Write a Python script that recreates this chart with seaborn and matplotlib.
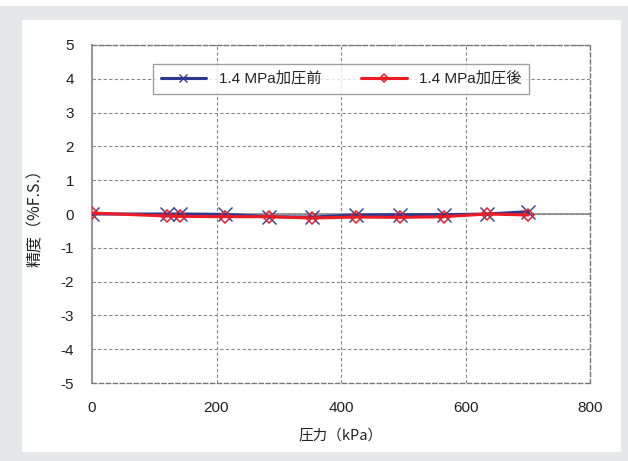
import matplotlib
matplotlib.use("Agg")
import matplotlib.pyplot as plt
import seaborn as sns
import pandas as pd
from matplotlib.patches import Rectangle

sns.set_theme(style="white")
plt.rcParams['font.family'] = ['Liberation Sans', 'Noto Sans CJK JP', 'DejaVu Sans']
plt.rcParams['axes.unicode_minus'] = False

pressure = [0, 120, 142, 213, 284, 354, 424, 494, 565, 635, 701]
before = [0.00, 0.00, 0.00, -0.01, -0.08, -0.09, -0.03, -0.02, -0.02, 0.00, 0.07]
after = [0.03, -0.06, -0.07, -0.08, -0.08, -0.12, -0.09, -0.10, -0.08, 0.00, -0.03]
label_before = "1.4 MPa加圧前"
label_after = "1.4 MPa加圧後"
xticks = [0, 200, 400, 600, 800]
yticks = [-5, -4, -3, -2, -1, 0, 1, 2, 3, 4, 5]

df = pd.DataFrame({"pressure": pressure + pressure,
                   "value": before + after,
                   "series": [label_before] * len(pressure) + [label_after] * len(pressure)})

fig = plt.figure(figsize=(6.28, 4.61), dpi=100)
fig.patches.append(Rectangle((0.0, 0.0), 1.0, 1 - 6 / 461, transform=fig.transFigure,
                             facecolor="#e6e7e9", edgecolor="none", zorder=-2))
fig.patches.append(Rectangle((22 / 628, 1 - 452 / 461), (621 - 22) / 628, (452 - 20) / 461,
                             transform=fig.transFigure, facecolor="white", edgecolor="none", zorder=-1))

ax = fig.add_axes([92 / 628, 1 - 383 / 461, (590 - 92) / 628, (383 - 45) / 461])
ax.set_facecolor("white")

blue = "#2b3990"
red = "#ed1c24"
sns.lineplot(data=df[df.series == label_before], x="pressure", y="value", ax=ax,
             color=blue, marker="x", markersize=9.5, markeredgewidth=1.0,
             markeredgecolor=blue, linewidth=2.2, label=label_before, zorder=3)
sns.lineplot(data=df[df.series == label_after], x="pressure", y="value", ax=ax,
             color=red, marker="D", markersize=6.5, markerfacecolor="none",
             markeredgecolor=red, markeredgewidth=1.1,
             linewidth=2.2, label=label_after, zorder=4)

ax.set_xlim(0, 800)
ax.set_ylim(-5, 5)
ax.set_xticks(xticks)
ax.set_yticks(yticks)
ax.tick_params(axis="both", labelsize=11, length=0, colors="#222222")
ax.tick_params(axis="x", pad=13)
ax.tick_params(axis="y", pad=13)
ax.grid(True, color="#888888", linestyle=(0, (3, 2)), linewidth=0.8)
ax.axhline(0, color="#888888", linewidth=1.2, zorder=2)

for side in ["top", "right", "bottom"]:
    ax.spines[side].set_linestyle((0, (3, 2)))
    ax.spines[side].set_color("#777777")
    ax.spines[side].set_linewidth(1.0)
ax.spines["left"].set_color("#999999")
ax.spines["left"].set_linewidth(1.5)

ax.set_xlabel("圧力（kPa）", fontsize=10.5, labelpad=10,
              family=['Noto Sans CJK JP', 'DejaVu Sans'], color="#222222")
ax.set_ylabel("精度（%F.S.）", fontsize=11.5, labelpad=12,
              family=['Noto Sans CJK JP', 'DejaVu Sans'], color="#222222")

leg = ax.legend(loc="upper center", bbox_to_anchor=(0.5, 0.967), ncol=2, frameon=True,
                fancybox=False, edgecolor="#888888", handlelength=3.0,
                columnspacing=2.6, borderpad=0.5, markerscale=0.65,
                prop={'family': ['Liberation Sans', 'Noto Sans CJK JP'], 'size': 11})
leg.get_frame().set_linewidth(1.0)

fig.savefig("out.png", dpi=100, facecolor="white")
